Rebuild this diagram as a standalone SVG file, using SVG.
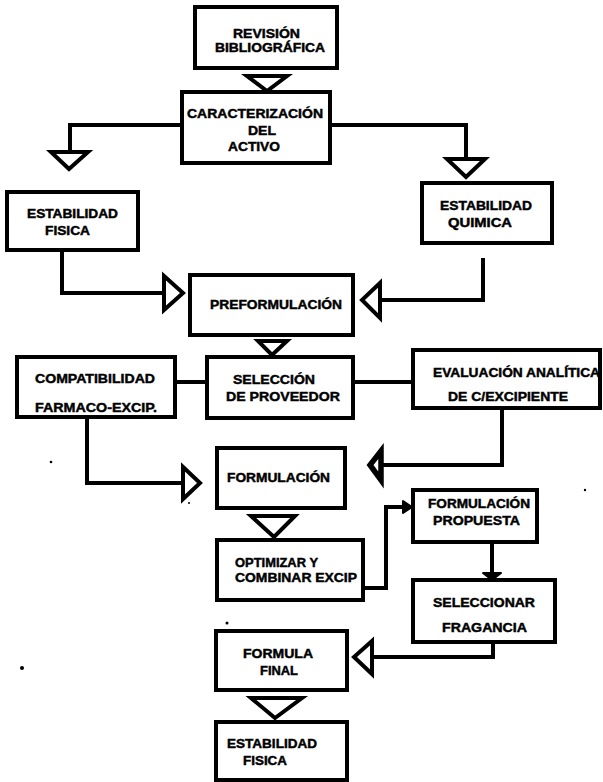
<svg xmlns="http://www.w3.org/2000/svg" width="603" height="782" viewBox="0 0 603 782">
  <style>
    .box{fill:#fff;stroke:#000;stroke-width:4}
    .ln{fill:none;stroke:#000;stroke-width:4;stroke-linejoin:miter}
    .tri{fill:#fff;stroke:#000;stroke-width:4;stroke-linejoin:miter}
    .tri-dark{fill:#fff;stroke:#000;stroke-width:5.5;stroke-linejoin:miter}
    .head{fill:#000;stroke:#000;stroke-width:2;stroke-linejoin:round}
    text{font-family:"Liberation Sans",Arial,sans-serif;font-weight:bold;font-size:13px;fill:#000;stroke:#000;stroke-width:0.45}
    .speck{fill:#000}
  </style>
  <rect width="603" height="782" fill="#fff"/>

  <!-- process boxes -->
  <g id="n-revision">
    <rect class="box" x="195" y="7" width="142" height="61"/>
    <text x="233" y="38" textLength="67" lengthAdjust="spacingAndGlyphs">REVISIÓN</text>
    <text x="215" y="52" textLength="110" lengthAdjust="spacingAndGlyphs">BIBLIOGRÁFICA</text>
  </g>
  <g id="n-caracterizacion">
    <rect class="box" x="182" y="92" width="148" height="71"/>
    <text x="187" y="118" textLength="136" lengthAdjust="spacingAndGlyphs">CARACTERIZACIÓN</text>
    <text x="248" y="135" textLength="28" lengthAdjust="spacingAndGlyphs">DEL</text>
    <text x="228" y="151" textLength="52" lengthAdjust="spacingAndGlyphs">ACTIVO</text>
  </g>
  <g id="n-estabilidad-fisica">
    <rect class="box" x="7" y="192" width="131" height="58"/>
    <text x="27" y="218" textLength="91" lengthAdjust="spacingAndGlyphs">ESTABILIDAD</text>
    <text x="45" y="235" textLength="45" lengthAdjust="spacingAndGlyphs">FISICA</text>
  </g>
  <g id="n-estabilidad-quimica">
    <rect class="box" x="422" y="183" width="130" height="60"/>
    <text x="440" y="210" textLength="92" lengthAdjust="spacingAndGlyphs">ESTABILIDAD</text>
    <text x="448" y="227" textLength="64" lengthAdjust="spacingAndGlyphs">QUIMICA</text>
  </g>
  <g id="n-preformulacion">
    <rect class="box" x="190" y="275" width="163" height="60"/>
    <text x="210" y="309" textLength="132" lengthAdjust="spacingAndGlyphs">PREFORMULACIÓN</text>
  </g>
  <g id="n-compatibilidad">
    <rect class="box" x="17" y="357" width="158" height="60"/>
    <text x="35" y="383" textLength="120" lengthAdjust="spacingAndGlyphs">COMPATIBILIDAD</text>
    <text x="35" y="412" textLength="122" lengthAdjust="spacingAndGlyphs">FARMACO-EXCIP.</text>
  </g>
  <g id="n-seleccion-proveedor">
    <rect class="box" x="207" y="357" width="146" height="61"/>
    <text x="233" y="384" textLength="82" lengthAdjust="spacingAndGlyphs">SELECCIÓN</text>
    <text x="226" y="401" textLength="114" lengthAdjust="spacingAndGlyphs">DE PROVEEDOR</text>
  </g>
  <g id="n-evaluacion">
    <rect class="box" x="413" y="350" width="187" height="58"/>
    <text x="433" y="377" textLength="167" lengthAdjust="spacingAndGlyphs">EVALUACIÓN ANALÍTICA</text>
    <text x="448" y="401" textLength="120" lengthAdjust="spacingAndGlyphs">DE C/EXCIPIENTE</text>
  </g>
  <g id="n-formulacion">
    <rect class="box" x="217" y="448" width="128" height="60"/>
    <text x="227" y="482" textLength="103" lengthAdjust="spacingAndGlyphs">FORMULACIÓN</text>
  </g>
  <g id="n-optimizar">
    <rect class="box" x="217" y="540" width="146" height="60"/>
    <text x="235" y="567" textLength="83" lengthAdjust="spacingAndGlyphs">OPTIMIZAR Y</text>
    <text x="235" y="582" textLength="122" lengthAdjust="spacingAndGlyphs">COMBINAR EXCIP</text>
  </g>
  <g id="n-formulacion-propuesta">
    <rect class="box" x="413" y="490" width="124" height="52"/>
    <text x="428" y="508" textLength="102" lengthAdjust="spacingAndGlyphs">FORMULACIÓN</text>
    <text x="433" y="525" textLength="87" lengthAdjust="spacingAndGlyphs">PROPUESTA</text>
  </g>
  <g id="n-fragancia">
    <rect class="box" x="413" y="580" width="142" height="62"/>
    <text x="433" y="607" textLength="102" lengthAdjust="spacingAndGlyphs">SELECCIONAR</text>
    <text x="442" y="632" textLength="85" lengthAdjust="spacingAndGlyphs">FRAGANCIA</text>
  </g>
  <g id="n-formula-final">
    <rect class="box" x="216" y="631" width="131" height="59"/>
    <text x="243" y="658" textLength="70" lengthAdjust="spacingAndGlyphs">FORMULA</text>
    <text x="260" y="675" textLength="38" lengthAdjust="spacingAndGlyphs">FINAL</text>
  </g>
  <g id="n-estabilidad-final">
    <rect class="box" x="216" y="722" width="131" height="58"/>
    <text x="227" y="748" textLength="90" lengthAdjust="spacingAndGlyphs">ESTABILIDAD</text>
    <text x="243" y="765" textLength="44" lengthAdjust="spacingAndGlyphs">FISICA</text>
  </g>

  <!-- connectors and open arrowheads -->
  <g id="connectors">
    <polygon class="tri" points="247,76 287,76 267,91"/>

    <polyline class="ln" points="182,125 70,125 70,151"/>
    <polygon class="tri" points="51,152 88,152 69,169"/>

    <polyline class="ln" points="330,125 466,125 466,159"/>
    <polygon class="tri" points="447,159 485,159 466,177"/>

    <polyline class="ln" points="62,250 62,293 163,293"/>
    <polygon class="tri" points="164,276 164,310 183,293"/>

    <polyline class="ln" points="483,258 483,300 380,300"/>
    <polygon class="tri" points="380,283 380,318 362,300"/>

    <polygon class="tri" points="258,341 287,341 272,355"/>

    <line class="ln" x1="175" y1="382" x2="207" y2="382"/>
    <line class="ln" x1="353" y1="382" x2="413" y2="382"/>

    <polyline class="ln" points="87,417 87,483 182,483"/>
    <polygon class="tri" points="183,467 183,499 200,483"/>

    <polyline class="ln" points="502,408 502,465 381,465"/>
    <polygon class="tri-dark" points="381,451 381,480 370,465"/>

    <polygon class="tri" points="251,516 295,516 274,537"/>

    <polyline class="ln" points="363,588 386,588 386,507 405,507"/>
    <polygon class="head" points="403,501 412,507 403,513"/>

    <line class="ln" x1="492" y1="542" x2="492" y2="573"/>
    <polygon class="head" points="483,573 501,573 492,580"/>

    <polyline class="ln" points="493,642 493,657 372,657"/>
    <polygon class="tri" points="372,641 372,674 354,657"/>

    <polygon class="tri" points="251,698 302,698 275,718"/>
  </g>

  <!-- specks on the sheet -->
  <g id="specks">
    <circle class="speck" cx="51" cy="462" r="1.3"/>
    <circle class="speck" cx="189" cy="503" r="1"/>
    <circle class="speck" cx="585" cy="490" r="1.2"/>
    <circle class="speck" cx="227" cy="623" r="1.5"/>
    <circle class="speck" cx="22" cy="668" r="2"/>
  </g>
</svg>
